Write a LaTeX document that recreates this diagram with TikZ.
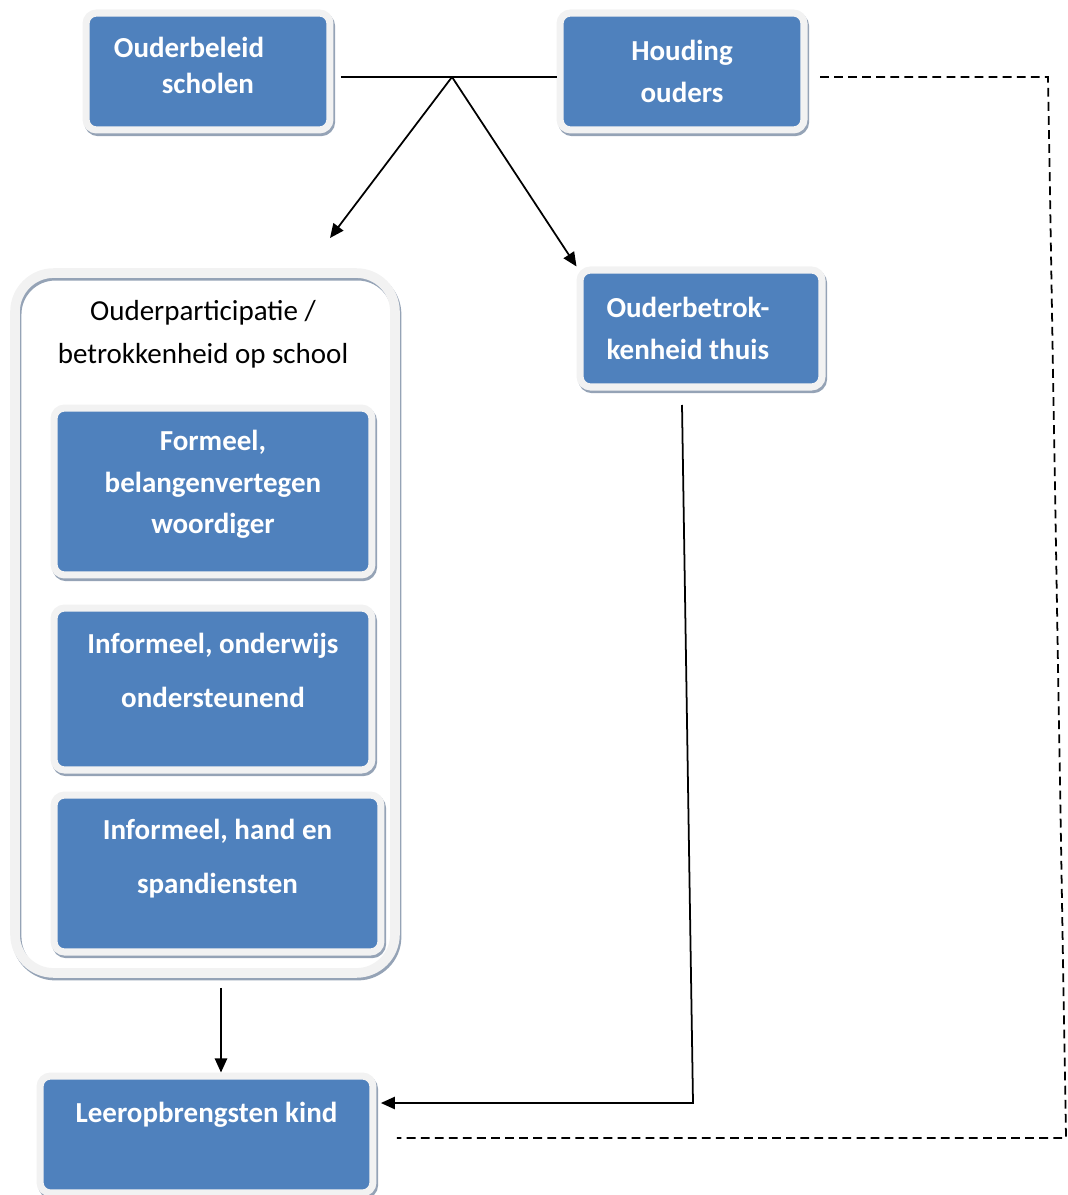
\documentclass[tikz,border=0pt]{standalone}
\usepackage{fontspec}
\setmainfont{Carlito}
\usetikzlibrary{arrows.meta,shadows}

\definecolor{blokblauw}{HTML}{4F81BD}
\definecolor{rand}{HTML}{F2F2F2}
\definecolor{schaduw}{HTML}{95A3B6}

\tikzset{
    blok/.style={rectangle, rounded corners=6pt, fill=blokblauw, draw=rand,
        line width=4pt, text=white, align=center, inner sep=0pt,
        font=\bfseries\fontsize{16.5}{23.5}\selectfont,
        general shadow={shadow xshift=0.9pt, shadow yshift=-1.5pt,
            draw=schaduw, line width=4pt}},
    kader/.style={rectangle, rounded corners=22pt, draw=rand, line width=5.5pt,
        general shadow={shadow xshift=0.9pt, shadow yshift=-1.5pt,
            draw=schaduw, line width=5.5pt}},
    titel/.style={align=center, font=\fontsize{16.5}{24.5}\selectfont},
    lijn/.style={line width=1pt},
    pijl/.style={line width=1pt, -{Triangle[length=8pt,width=7pt]}},
    stippel/.style={line width=1pt, dash pattern=on 5pt off 3pt}
}

\begin{document}
\begin{tikzpicture}[x=0.02cm, y=-0.02cm]
    \useasboundingbox (0,0) rectangle (1067,1195);

    % Bovenste rij
    \node[blok, minimum width=4.88cm, minimum height=2.34cm, align=left, text depth=7pt]
        (scholen) at (208,71.5) {Ouderbeleid\hspace*{0.76cm}\\[-3pt]\hspace*{0.96cm}scholen};
    \node[blok, minimum width=4.88cm, minimum height=2.34cm]
        (houding) at (682,71.5) {Houding\\ouders};
    \node[blok, minimum width=4.84cm, minimum height=2.34cm, align=left]
        (thuis) at (701,328.5) {Ouderbetrok-\hspace*{0.52cm}\\kenheid thuis};

    % Ouderparticipatie op school
    \node[kader, minimum width=7.6cm, minimum height=14cm] (kader) at (205,623) {};
    \node[titel] (titel) at (203,334) {Ouderparticipatie /\\betrokkenheid op school};
    \node[blok, minimum width=6.36cm, minimum height=3.34cm, text depth=11pt]
        (formeel) at (213,491.5) {Formeel,\\belangenvertegen\\woordiger};
    \node[blok, minimum width=6.36cm, minimum height=3.24cm, text depth=21.5pt]
        (onderwijs) at (213,689) {Informeel, onderwijs\\[7pt]ondersteunend};
    \node[blok, minimum width=6.54cm, minimum height=3.14cm, text depth=19.5pt]
        (hand) at (217.5,873.5) {Informeel, hand en\\[7pt]spandiensten};

    % Uitkomst
    \node[blok, minimum width=6.66cm, minimum height=2.34cm, text depth=25.5pt]
        (leer) at (206.5,1134.5) {Leeropbrengsten kind};

    % Verbindingen
    \coordinate (splits) at (452,77);
    \coordinate (links) at (330,238);
    \draw[lijn, shorten <=4.2pt] (scholen.east |- splits) -- (houding.west |- splits);
    \draw[pijl] (splits) -- (links);
    \draw[pijl] (splits) -- (thuis.north west);

    \draw[pijl, shorten <=5.7pt] ([xshift=0.32cm]kader.south) -- ([xshift=0.32cm]kader.south |- leer.north);

    \coordinate (knik) at (693,1103);
    \draw[pijl, shorten >=2.5pt] ([xshift=-0.38cm, yshift=-0.29cm]thuis.south) -- (knik) -- (leer.east |- knik);

    % Stippellijn van houding ouders naar leeropbrengsten
    \coordinate (rechtsboven) at (1048,77);
    \coordinate (rechtsonder) at (1066,1138);
    \draw[stippel] ([xshift=0.25cm]houding.east |- rechtsboven) -- (rechtsboven) -- (rechtsonder)
        -- ([xshift=0.41cm]leer.east |- rechtsonder);
\end{tikzpicture}
\end{document}
